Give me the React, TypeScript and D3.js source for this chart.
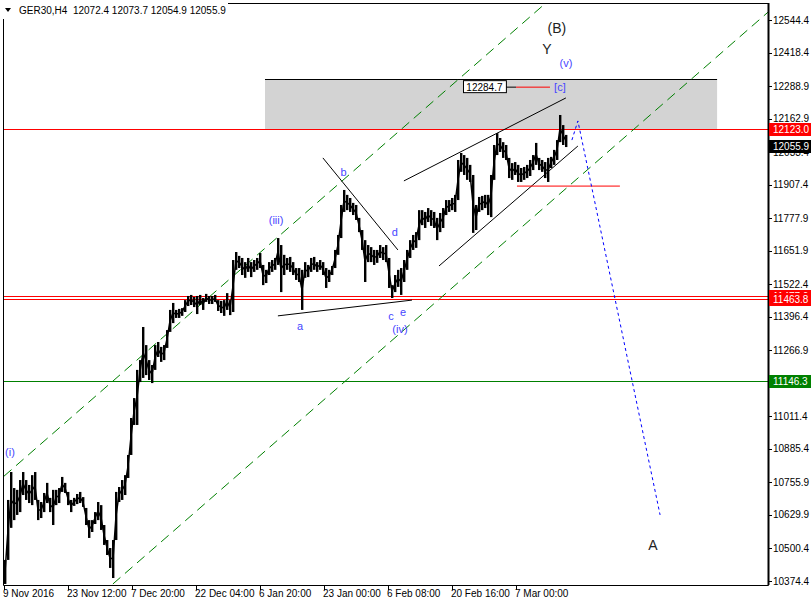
import React from 'react';
import * as d3 from 'd3';

const width = 811;
const height = 605;
const plotLeft = 3;
const plotRight = 768;
const plotTop = 3;
const plotBottom = 585;

// H4 price path, one entry per 3px bucket (high / low)
const highs = [
  10456, 10688, 10796, 10734, 10727, 10765, 10796, 10765, 10746, 10784,
  10796, 10688, 10680, 10715, 10754, 10696, 10727, 10727, 10734, 10777,
  10754, 10719, 10688, 10696, 10711, 10719, 10699, 10657, 10610, 10610,
  10641, 10680, 10668, 10591, 10533, 10502, 10533, 10719, 10738, 10765,
  10784, 10862, 11005, 11082, 11191, 11229, 11357, 11287, 11229, 11210,
  11287, 11299, 11280, 11287, 11345, 11423, 11450, 11423, 11427, 11430,
  11461, 11477, 11481, 11473, 11477, 11481, 11469, 11485, 11477, 11477,
  11481, 11461, 11458, 11461, 11488, 11461, 11616, 11647, 11632, 11624,
  11608, 11624, 11608, 11616, 11624, 11643, 11597, 11578, 11608, 11616,
  11624, 11701, 11674, 11636, 11624, 11628, 11608, 11585, 11585, 11578,
  11608, 11597, 11624, 11628, 11608, 11616, 11608, 11585, 11578, 11593,
  11655, 11713, 11829, 11887, 11868, 11856, 11837, 11829, 11779, 11732,
  11693, 11674, 11666, 11655, 11655, 11674, 11666, 11674, 11624, 11519,
  11558, 11578, 11585, 11616, 11655, 11693, 11713, 11724, 11809, 11809,
  11802, 11817, 11809, 11802, 11779, 11798, 11817, 11848, 11848, 11856,
  11868, 12003, 12030, 12022, 12011, 11984, 11945, 11829, 11860, 11864,
  11868, 11868, 11945, 12061, 12107, 12088, 12072, 12061, 12011, 11991,
  11995, 11984, 11972, 11976, 11984, 12003, 12022, 12069, 12011, 12003,
  11995, 12011, 12015, 12042, 12080, 12177, 12138, 12100,
];
const lows = [
  10363, 10456, 10580, 10610, 10630, 10641, 10707, 10688, 10676, 10668,
  10688, 10610, 10618, 10641, 10676, 10641, 10591, 10668, 10676, 10719,
  10715, 10668, 10641, 10665, 10672, 10676, 10661, 10591, 10541, 10564,
  10595, 10610, 10572, 10514, 10475, 10425, 10386, 10533, 10680, 10688,
  10707, 10773, 10862, 10978, 10978, 11144, 11160, 11171, 11152, 11140,
  11191, 11241, 11222, 11229, 11276, 11338, 11372, 11392, 11392, 11400,
  11415, 11438, 11442, 11434, 11407, 11442, 11423, 11454, 11446, 11446,
  11454, 11419, 11411, 11400, 11423, 11403, 11415, 11578, 11585, 11558,
  11547, 11570, 11550, 11570, 11578, 11585, 11519, 11527, 11558, 11570,
  11578, 11597, 11492, 11558, 11578, 11570, 11558, 11539, 11531, 11423,
  11547, 11550, 11570, 11578, 11570, 11578, 11558, 11508, 11531, 11558,
  11585, 11636, 11701, 11802, 11809, 11802, 11790, 11771, 11724, 11655,
  11531, 11608, 11608, 11597, 11605, 11624, 11616, 11608, 11508, 11469,
  11492, 11512, 11481, 11531, 11578, 11624, 11655, 11663, 11693, 11751,
  11740, 11763, 11748, 11740, 11693, 11724, 11740, 11790, 11802, 11809,
  11802, 11848, 11957, 11945, 11926, 11918, 11721, 11732, 11802, 11809,
  11817, 11790, 11782, 11926, 12022, 12034, 12011, 12003, 11933, 11926,
  11945, 11918, 11918, 11926, 11933, 11941, 11964, 11984, 11964, 11957,
  11933, 11918, 11972, 11984, 12003, 12072, 12061, 12053,
];

const yTicks = [
  12544.4, 12418.4, 12288.9, 12162.9, 12033.4, 11907.4, 11777.9, 11651.9, 11522.4,
  11396.4, 11266.9, 11140.8, 11011.4, 10885.4, 10755.9, 10629.9, 10500.4, 10374.4,
];
const timeLabels = [
  '9 Nov 2016', '23 Nov 12:00', '7 Dec 20:00', '22 Dec 04:00', '6 Jan 20:00',
  '23 Jan 00:00', '6 Feb 08:00', '20 Feb 16:00', '7 Mar 00:00',
];
const timeTickIndex = [0, 21.33, 42.67, 64, 85.33, 106.67, 128, 149.33, 170.67];

// horizontal levels
const levelPrices = [12123.0, 11477.6, 11463.8, 11146.3];
const levelColors = ['#ff0000', '#ff0000', '#ff0000', '#008000'];
const currentPrice = 12055.9;

// zone
const zoneTime = [87, 237.7];
const zonePrice = [12123.0, 12316.2];

// trend lines [index, price]
const channelUpper = [[0, 10780], [180.5, 12609]];
const channelLower = [[36.3, 10363], [254.7, 12575]];
const wedgeUpper = [[133.3, 11922], [187.3, 12243]];
const wedgeLower = [[145, 11593], [191.3, 12057]];
const triangleUpper = [[106.3, 12011], [131.3, 11655]];
const triangleLower = [[91.3, 11400], [136, 11461]];
const projection = [[189.3, 12080], [191.3, 12154], [218.7, 10630]];
const supportLine = [[171, 11902], [205.3, 11902]];

const markerPrice = 12284.7;
const markerTime = [153, 167.3, 170.7, 182];

const waveText = ['(B)', 'Y', '(v)', '(iii)', 'b', 'd', 'a', 'c', 'e', '(iv)', '(i)', 'A', '[c]'];
const waveIndex = [184.3, 181, 187.3, 90.7, 113.2, 130.3, 98.7, 129, 133, 132, 2, 216.3, 185.3];
const wavePrice = [12512, 12432, 12378, 11771, 11957, 11724, 11361, 11400, 11415, 11349, 10874, 10514, 12283];
const waveMajor = [true, true, false, false, false, false, false, false, false, false, false, true, false];

const x = d3.scaleLinear().domain([0, 254.67]).range([4, 768]);
const y = d3.scaleLinear().domain([10359, 12621.8]).range([585, 0]);

const font = '"Liberation Sans", Arial, sans-serif';
const blue = '#4646ff';

const seg = d3
  .line<number[]>()
  .x((d) => x(d[0]))
  .y((d) => y(d[1]));

const mid = d3
  .line<number>()
  .x((_, i) => x(i) + 1)
  .y((d, i) => y((d + lows[i]) / 2));

const App = () => {
  return (
    <svg
      width={width}
      height={height}
      style={{ position: 'absolute', left: 0, top: 0, background: '#fff' }}
      fontFamily={font}
    >
      <defs>
        <clipPath id="plot">
          <rect x={plotLeft} y={plotTop} width={plotRight - plotLeft} height={plotBottom - plotTop} />
        </clipPath>
      </defs>
      <rect width={width} height={height} fill="#fff" />

      <g clipPath="url(#plot)">
        {/* zone */}
        <rect
          x={x(zoneTime[0])}
          y={y(zonePrice[1])}
          width={x(zoneTime[1]) - x(zoneTime[0])}
          height={y(zonePrice[0]) - y(zonePrice[1])}
          fill="#d3d3d3"
        />
        <line
          x1={x(zoneTime[0])}
          x2={x(zoneTime[1])}
          y1={Math.round(y(zonePrice[1])) + 0.5}
          y2={Math.round(y(zonePrice[1])) + 0.5}
          stroke="#000"
        />

        {/* levels */}
        {levelPrices.map((p, i) => (
          <line
            key={i}
            x1={plotLeft}
            x2={plotRight}
            y1={Math.round(y(p)) + 0.5}
            y2={Math.round(y(p)) + 0.5}
            stroke={levelColors[i]}
          />
        ))}

        {/* channel */}
        {[channelUpper, channelLower].map((l, i) => (
          <path key={i} d={seg(l) as string} stroke="#008000" strokeDasharray="10,6" fill="none" />
        ))}

        {/* price bars */}
        <path d={mid(highs) as string} fill="none" stroke="#000" strokeWidth={1.5} />
        {highs.map((h, i) => (
          <rect
            key={i}
            x={x(i)}
            y={y(h)}
            width={2.4}
            height={Math.max(1, y(lows[i]) - y(h))}
            fill="#000"
          />
        ))}

        {/* trend lines */}
        {[wedgeUpper, wedgeLower, triangleUpper, triangleLower].map((l, i) => (
          <path key={i} d={seg(l) as string} stroke="#000" fill="none" />
        ))}
        <path d={seg(supportLine) as string} stroke="#ff0000" fill="none" />
        <path d={seg(projection) as string} stroke="#0000ff" strokeDasharray="3,3" fill="none" />

        {/* price marker */}
        <line x1={x(markerTime[1])} x2={x(markerTime[2])} y1={y(markerPrice)} y2={y(markerPrice)} stroke="#000" />
        <line x1={x(markerTime[2])} x2={x(markerTime[3])} y1={y(markerPrice)} y2={y(markerPrice)} stroke="#ff0000" />
        <rect
          x={x(markerTime[0]) + 0.5}
          y={y(markerPrice) - 6.5}
          width={x(markerTime[1]) - x(markerTime[0])}
          height={12}
          fill="#fff"
          stroke="#000"
        />
        <text
          x={(x(markerTime[0]) + x(markerTime[1])) / 2}
          y={y(markerPrice)}
          dy="0.35em"
          textAnchor="middle"
          fontSize={10}
          fill="#000"
        >
          {markerPrice.toFixed(1)}
        </text>

        {/* wave labels */}
        {waveText.map((t, i) => (
          <text
            key={i}
            x={x(waveIndex[i])}
            y={y(wavePrice[i])}
            dy="0.35em"
            textAnchor="middle"
            fontSize={waveMajor[i] ? 14 : 11}
            fill={waveMajor[i] ? '#222' : blue}
          >
            {t}
          </text>
        ))}
      </g>

      {/* frame */}
      <path
        d={`M${plotLeft + 0.5},${plotTop + 0.5}H${plotRight + 0.5}V${plotBottom + 0.5}H${plotLeft + 0.5}Z`}
        fill="none"
        stroke="#000"
      />
      <line x1={plotRight + 0.5} x2={plotRight + 0.5} y1={plotTop} y2={plotBottom} stroke="#000" strokeWidth={2} />

      {/* header */}
      <rect x={0} y={0} width={228} height={19} fill="#fff" />
      <path d="M5,8 L11,8 L8,12 Z" fill="#000" />
      <text x={19} y={14} fontSize={10} fill="#000" style={{ whiteSpace: 'pre' }}>
        {'GER30,H4  12072.4 12073.7 12054.9 12055.9'}
      </text>

      {/* right axis */}
      {yTicks.map((v, i) => (
        <g key={i}>
          <line
            x1={plotRight}
            x2={plotRight + 4}
            y1={Math.round(y(v)) + 0.5}
            y2={Math.round(y(v)) + 0.5}
            stroke="#000"
          />
          <text x={plotRight + 5} y={y(v)} dy="0.35em" fontSize={10} fill="#000">
            {v.toFixed(1)}
          </text>
        </g>
      ))}
      {levelPrices.map((p, i) => (
        <g key={i}>
          <rect x={plotRight + 1} y={Math.round(y(p)) - 6} width={width - plotRight} height={13} fill={levelColors[i]} />
          <text x={plotRight + 5} y={Math.round(y(p)) + 0.5} dy="0.35em" fontSize={10} fill="#fff">
            {p.toFixed(1)}
          </text>
        </g>
      ))}
      <rect x={plotRight + 1} y={Math.round(y(currentPrice)) - 6} width={width - plotRight} height={13} fill="#000" />
      <text x={plotRight + 5} y={Math.round(y(currentPrice)) + 0.5} dy="0.35em" fontSize={10} fill="#fff">
        {currentPrice.toFixed(1)}
      </text>

      {/* bottom axis */}
      {timeLabels.map((t, i) => (
        <g key={i}>
          <line
            x1={Math.round(x(timeTickIndex[i])) + 0.5}
            x2={Math.round(x(timeTickIndex[i])) + 0.5}
            y1={plotBottom}
            y2={plotBottom + 5}
            stroke="#000"
          />
          <text x={x(timeTickIndex[i]) - 1} y={597} fontSize={10} fill="#000">
            {t}
          </text>
        </g>
      ))}
    </svg>
  );
};

export default App;
